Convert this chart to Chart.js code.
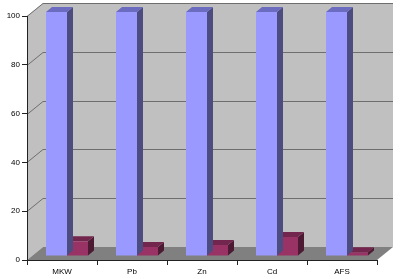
<!DOCTYPE html>
<html>
<head>
<meta charset="utf-8">
<script src="https://cdn.jsdelivr.net/npm/chart.js@4/dist/chart.umd.min.js"></script>
<style>
    html, body { margin: 0; padding: 0; background: #ffffff; }
    #wrap { width: 400px; height: 279px; }
</style>
</head>
<body>
<div id="wrap"><canvas id="chart" width="400" height="279"></canvas></div>
<script>
const categories = ['MKW', 'Pb', 'Zn', 'Cd', 'AFS'];
const seriesA = [100, 100, 100, 100, 100];
const seriesB = [6, 3.7, 4.5, 7.8, 1.5];
const yTicks = [0, 20, 40, 60, 80, 100];

// 3D depth of the floor / walls and of the bars
const DEPTH = { x: 16, y: -13 };
const BAR_SHIFT = { x: 5, y: -4 };
const BAR_DEPTH = { x: 6, y: -5 };

const faceColors = [
    { side: '#4c4c80', top: '#6b6bbf' },
    { side: '#4d1a33', top: '#73264d' }
];

function poly(ctx, pts, fill) {
    ctx.beginPath();
    ctx.moveTo(pts[0][0], pts[0][1]);
    for (let i = 1; i < pts.length; i++) ctx.lineTo(pts[i][0], pts[i][1]);
    ctx.closePath();
    ctx.fillStyle = fill;
    ctx.fill();
}

const walls3d = {
    id: 'walls3d',
    beforeDraw(chart) {
        const ctx = chart.ctx;
        const a = chart.chartArea;
        const y = chart.scales.y;
        const dx = DEPTH.x, dy = DEPTH.y;
        ctx.save();
        // left side wall
        poly(ctx, [[a.left, a.top], [a.left + dx, a.top + dy], [a.left + dx, a.bottom + dy], [a.left, a.bottom]], '#c0c0c0');
        // back wall
        poly(ctx, [[a.left + dx, a.top + dy], [a.right + dx, a.top + dy], [a.right + dx, a.bottom + dy], [a.left + dx, a.bottom + dy]], '#c0c0c0');
        // floor
        poly(ctx, [[a.left, a.bottom], [a.right, a.bottom], [a.right + dx, a.bottom + dy], [a.left + dx, a.bottom + dy]], '#808080');
        // gridlines on side and back wall
        ctx.strokeStyle = '#6e6e6e';
        ctx.lineWidth = 1;
        yTicks.forEach(v => {
            if (v === 0) return;
            const py = Math.round(y.getPixelForValue(v)) + 0.5;
            ctx.beginPath();
            ctx.moveTo(a.left, py);
            ctx.lineTo(a.left + dx, py + dy);
            ctx.lineTo(a.right + dx, py + dy);
            ctx.stroke();
        });
        ctx.restore();
    },
    beforeDatasetDraw(chart) {
        chart.ctx.save();
        chart.ctx.translate(BAR_SHIFT.x, BAR_SHIFT.y);
    },
    afterDatasetDraw(chart, args) {
        const ctx = chart.ctx;
        const c = faceColors[args.index];
        const bx = BAR_DEPTH.x, by = BAR_DEPTH.y;
        args.meta.data.forEach(bar => {
            const p = bar.getProps(['x', 'y', 'base', 'width'], true);
            const l = p.x - p.width / 2, r = p.x + p.width / 2;
            poly(ctx, [[r, p.y], [r + bx, p.y + by], [r + bx, p.base + by], [r, p.base]], c.side);
            poly(ctx, [[l, p.y], [l + bx, p.y + by], [r + bx, p.y + by], [r, p.y]], c.top);
        });
        ctx.restore();
    }
};

new Chart(document.getElementById('chart').getContext('2d'), {
    type: 'bar',
    data: {
        labels: categories,
        datasets: [
            { data: seriesA, backgroundColor: '#9999ff', borderWidth: 0 },
            { data: seriesB, backgroundColor: '#993366', borderWidth: 0 }
        ]
    },
    options: {
        responsive: false,
        animation: false,
        clip: false,
        categoryPercentage: 0.6,
        barPercentage: 1.0,
        layout: { padding: { top: 16, right: 23, left: 0, bottom: 0 } },
        plugins: {
            legend: { display: false },
            tooltip: { enabled: false }
        },
        scales: {
            x: {
                afterFit: s => { s.height = 19; },
                grid: { drawOnChartArea: false, tickLength: 5, color: '#222222', offset: true },
                border: { color: '#222222' },
                ticks: { color: '#000000', font: { family: 'Liberation Sans', size: 8 }, padding: 2 }
            },
            y: {
                min: 0,
                max: 100,
                afterFit: s => { s.width = 27; },
                grid: { drawOnChartArea: false, tickLength: 5, color: '#222222' },
                border: { color: '#222222' },
                ticks: { stepSize: 20, color: '#000000', font: { family: 'Liberation Sans', size: 8 }, padding: 2 }
            }
        }
    },
    plugins: [walls3d]
});
</script>
</body>
</html>
